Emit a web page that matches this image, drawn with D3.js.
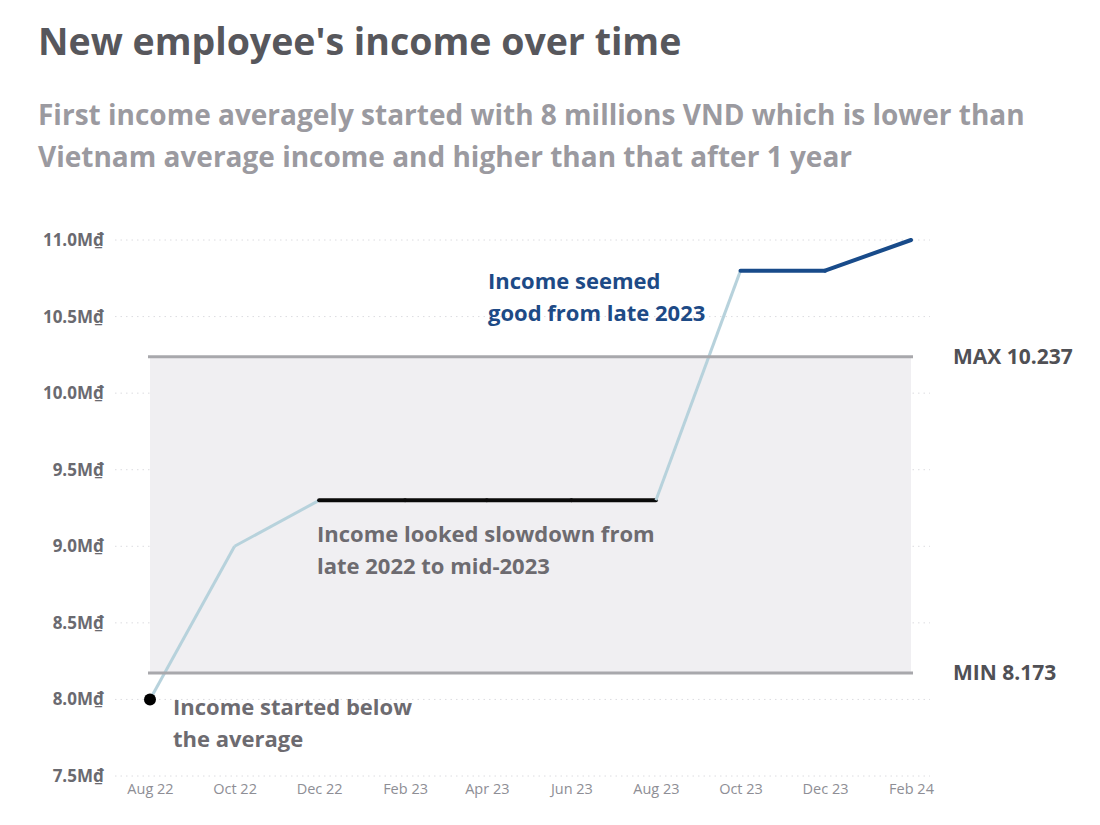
<!DOCTYPE html>
<html>
<head>
<meta charset="utf-8">
<script src="https://cdn.jsdelivr.net/npm/d3@7"></script>
<style>
  body { margin: 0; background: #fff; }
  svg { font-family: "Open Sans", "DejaVu Sans", sans-serif; }
</style>
</head>
<body>
<div id="chart"></div>
<script>
// Values (millions VND)
const months = ['2022-08', '2022-10', '2022-12', '2023-02', '2023-04', '2023-06', '2023-08', '2023-10', '2023-12', '2024-02'];
const income = [8.0, 9.0, 9.3, 9.3, 9.3, 9.3, 9.3, 10.8, 10.8, 11.0];
// phase of each segment between two consecutive points
const phases = ['rise', 'rise', 'flat', 'flat', 'flat', 'flat', 'rise', 'high', 'high'];
const yTicks = [7.5, 8.0, 8.5, 9.0, 9.5, 10.0, 10.5, 11.0];
const bandMin = 8.173;
const bandMax = 10.237;

const width = 1100, height = 825;
const margin = { top: 240, right: 189, bottom: 49, left: 150 };

const parseMonth = d3.timeParse('%Y-%m');
const data = months.map((m, i) => ({ date: parseMonth(m), value: income[i] }));

const phaseColor = { rise: '#b7d2dc', flat: '#0a0a0a', high: '#184b8a' };
const phaseWidth = { rise: 3, flat: 4, high: 4 };

const svg = d3.select('#chart').append('svg')
    .attr('width', width)
    .attr('height', height);

// Title + subtitle
svg.append('text')
    .attr('x', 38).attr('y', 55)
    .attr('font-size', 37.5).attr('font-weight', 700)
    .attr('fill', '#57575c')
    .text("New employee's income over time");

const subtitle = [
    'First income averagely started with 8 millions VND which is lower than',
    'Vietnam average income and higher than that after 1 year'
];
svg.selectAll('.subtitle')
    .data(subtitle)
    .join('text')
    .attr('class', 'subtitle')
    .attr('x', 38)
    .attr('y', (d, i) => 125 + i * 42)
    .attr('font-size', 28).attr('font-weight', 700)
    .attr('fill', '#9b9aa0')
    .text(d => d);

const xScale = d3.scaleTime()
    .domain(d3.extent(data, d => d.date))
    .range([margin.left, width - margin.right]);

const yScale = d3.scaleLinear()
    .domain([7.5, 11.0])
    .range([height - margin.bottom, margin.top]);

// dotted gridlines
svg.append('g')
    .selectAll('line')
    .data(yTicks)
    .join('line')
    .attr('x1', 115).attr('x2', 930)
    .attr('y1', d => yScale(d)).attr('y2', d => yScale(d))
    .attr('stroke', '#dcdce0')
    .attr('stroke-width', 1)
    .attr('stroke-dasharray', '1.5,4');

// y axis labels
const yAxis = d3.axisLeft(yScale)
    .tickValues(yTicks)
    .tickSize(0)
    .tickPadding(0)
    .tickFormat(d => d3.format('.1f')(d) + 'M\u20AB');

svg.append('g')
    .attr('transform', 'translate(104,0)')
    .call(yAxis)
    .call(g => g.select('.domain').remove())
    .selectAll('text')
    .attr('font-family', '"Open Sans", sans-serif')
    .attr('font-size', 17)
    .attr('font-weight', 700)
    .attr('fill', '#6a6a70');

// x axis labels
const xAxis = d3.axisBottom(xScale)
    .tickValues(data.map(d => d.date))
    .tickSize(0)
    .tickPadding(0)
    .tickFormat(d3.timeFormat('%b %y'));

svg.append('g')
    .attr('transform', `translate(0, ${height - margin.bottom + 8})`)
    .call(xAxis)
    .call(g => g.select('.domain').remove())
    .selectAll('text')
    .attr('font-family', '"Open Sans", sans-serif')
    .attr('font-size', 14.5)
    .attr('fill', '#8e8e95');

// min / max band
const x0 = xScale.range()[0], x1 = xScale.range()[1];
svg.append('rect')
    .attr('x', x0)
    .attr('y', yScale(bandMax))
    .attr('width', x1 - x0)
    .attr('height', yScale(bandMin) - yScale(bandMax))
    .attr('fill', '#f0eff2');

// income line, coloured by phase
const segments = phases.map((p, i) => ({ phase: p, points: [data[i], data[i + 1]] }));
const line = d3.line()
    .x(d => xScale(d.date))
    .y(d => yScale(d.value));

svg.append('g')
    .selectAll('path')
    .data(segments)
    .join('path')
    .attr('d', d => line(d.points))
    .attr('fill', 'none')
    .attr('stroke', d => phaseColor[d.phase])
    .attr('stroke-width', d => phaseWidth[d.phase])
    .attr('stroke-linecap', d => d.phase === 'rise' ? 'butt' : 'round')
    .attr('stroke-linejoin', 'round');

// band boundary lines on top
[bandMax, bandMin].forEach(v => {
    svg.append('line')
        .attr('x1', x0 - 2).attr('x2', x1 + 2)
        .attr('y1', yScale(v)).attr('y2', yScale(v))
        .attr('stroke', '#a8a8ac')
        .attr('stroke-width', 3);
});

svg.append('text')
    .attr('x', 953).attr('y', yScale(bandMax) + 7)
    .attr('font-size', 21).attr('font-weight', 700).attr('fill', '#505055')
    .text('MAX ' + bandMax);
svg.append('text')
    .attr('x', 953).attr('y', yScale(bandMin) + 7)
    .attr('font-size', 21).attr('font-weight', 700).attr('fill', '#505055')
    .text('MIN ' + bandMin);

// starting point
svg.append('circle')
    .attr('cx', xScale(data[0].date))
    .attr('cy', yScale(data[0].value))
    .attr('r', 6)
    .attr('fill', '#000');

// annotations
function annotate(lines, x, y, color) {
    svg.append('g')
        .selectAll('text')
        .data(lines)
        .join('text')
        .attr('x', x)
        .attr('y', (d, i) => y + i * 32)
        .attr('font-size', 22)
        .attr('font-weight', 700)
        .attr('fill', color)
        .text(d => d);
}
annotate(['Income seemed', 'good from late 2023'], 488, 289, '#1d4a86');
annotate(['Income looked slowdown from', 'late 2022 to mid-2023'], 317, 542, '#6d6b70');
annotate(['Income started below', 'the average'], 173, 715, '#6d6b70');
</script>
</body>
</html>
